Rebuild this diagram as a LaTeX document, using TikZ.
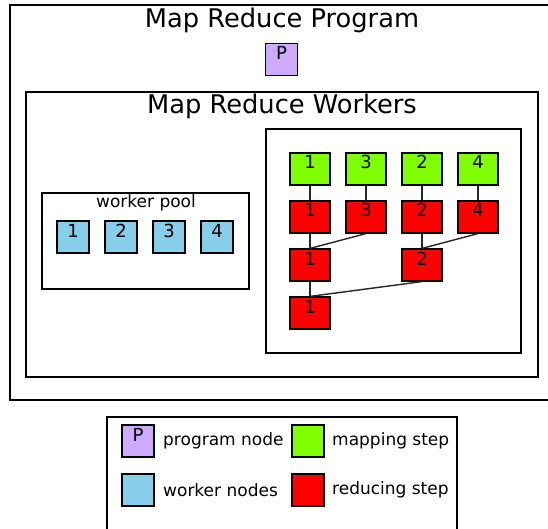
\documentclass[tikz,border=0pt]{standalone}
\usepackage{fontspec}
\setmainfont{DejaVu Sans}
\usepackage{tikz}

\definecolor{progcol}{RGB}{205,171,255}
\definecolor{workcol}{RGB}{135,206,235}
\definecolor{mapcol}{RGB}{127,255,0}
\definecolor{redcol}{RGB}{255,0,0}

\tikzset{
  box/.style={draw,line width=1.2pt,inner sep=0pt,minimum height=32pt,
    text height=16pt,text depth=16pt,font=\fontsize{18}{18}\selectfont},
  progbox/.style={box,fill=progcol,minimum width=32pt},
  workbox/.style={box,fill=workcol,minimum width=32pt},
  mapbox/.style={box,fill=mapcol,minimum width=40pt},
  redbox/.style={box,fill=redcol,minimum width=40pt},
  keybox/.style={box,minimum width=32pt},
  title/.style={font=\fontsize{25.7}{25.7}\selectfont},
  caption/.style={font=\fontsize{17}{17}\selectfont},
  frame/.style={line width=1.2pt},
  link/.style={line width=1.4pt,black!85}
}

\begin{document}
\begin{tikzpicture}[x=1pt,y=-1pt]
            \useasboundingbox (0,0) rectangle (548,529);

            \draw[frame] (10,5) rectangle (552,400);
            \node[title] (prog) at (282,20) {Map Reduce Program};
            \node[progbox] (p) at (281.5,59.5) {P};

            \draw[frame] (26,92) rectangle (538,377);
            \node[title] (workers) at (282,106) {Map Reduce Workers};

            \draw[frame] (42,193) rectangle (249,289);
            \node[caption] (pool) at (146,203) {worker pool};
            \node[workbox] (w1) at (73,237) {1};
            \node[workbox] (w2) at (121,237) {2};
            \node[workbox] (w3) at (169,237) {3};
            \node[workbox] (w4) at (217,237) {4};

            \draw[frame] (266,129) rectangle (521,353);
            \node[mapbox] (m1) at (310,169) {1};
            \node[mapbox] (m3) at (366,169) {3};
            \node[mapbox] (m2) at (422,169) {2};
            \node[mapbox] (m4) at (478,169) {4};

            \node[redbox] (r1) at (310,217) {1};
            \node[redbox] (r3) at (366,217) {3};
            \node[redbox] (r2) at (422,217) {2};
            \node[redbox] (r4) at (478,217) {4};

            \node[redbox] (rr1) at (310,265) {1};
            \node[redbox] (rr2) at (422,265) {2};

            \node[redbox] (rrr1) at (310,313) {1};

            \draw[link] (m1) -- (r1);
            \draw[link] (m3) -- (r3);
            \draw[link] (m2) -- (r2);
            \draw[link] (m4) -- (r4);
            \draw[link] (r1.south) -- (rr1.north);
            \draw[link] (r3.south) -- (rr1.north);
            \draw[link] (r2.south) -- (rr2.north);
            \draw[link] (r4.south) -- (rr2.north);
            \draw[link] (rr1.south) -- (rrr1.north);
            \draw[link] (rr2.south) -- (rrr1.north);

            % legend
            \draw[frame] (107,417) rectangle (457,535);
            \node[keybox,fill=progcol] (kp) at (138,441) {P};
            \node[caption,anchor=west,inner sep=0pt] (kpt) at (163,441) {program node};
            \node[keybox,fill=mapcol] (km) at (308,441) {};
            \node[caption,anchor=west,inner sep=0pt] (kmt) at (332,441) {mapping step};
            \node[keybox,fill=workcol] (kw) at (138,490) {};
            \node[caption,anchor=west,inner sep=0pt] (kwt) at (163,490) {worker nodes};
            \node[keybox,fill=redcol] (kr) at (308,490) {};
            \node[caption,anchor=west,inner sep=0pt] (krt) at (332,490) {reducing step};

         \end{tikzpicture}
\end{document}
